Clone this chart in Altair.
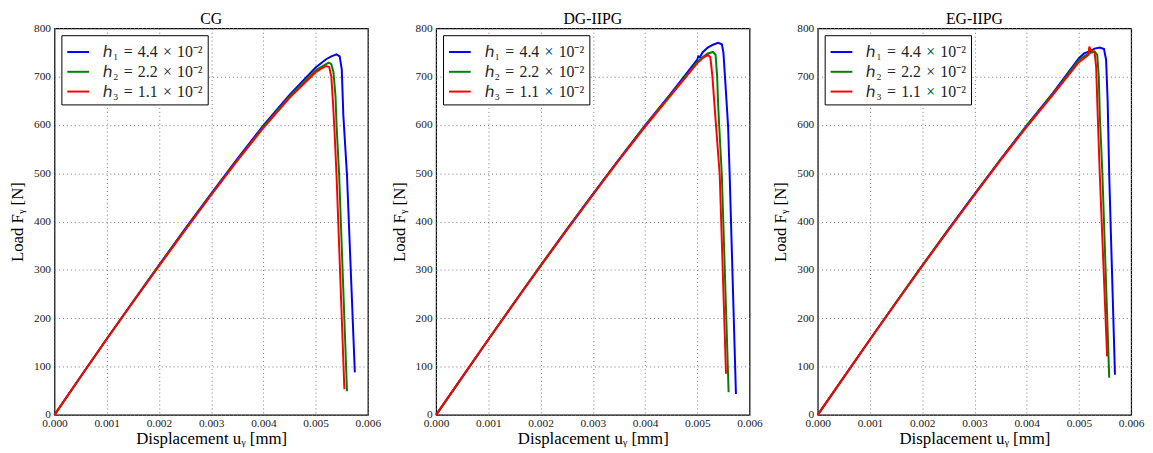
import altair as alt
import pandas as pd

# ---------- data ----------
SP = "\u2004"
LABELS = [f"ℎ₁{SP}={SP}4.4{SP}×{SP}10⁻²", f"ℎ₂{SP}={SP}2.2{SP}×{SP}10⁻²", f"ℎ₃{SP}={SP}1.1{SP}×{SP}10⁻²"]
COLORS = ["#0000ff", "#008000", "#ff0000"]
PANELS = ["CG", "DG-IIPG", "EG-IIPG"]
X_TICKS = [0, 0.001, 0.002, 0.003, 0.004, 0.005, 0.006]
Y_TICKS = [0, 100, 200, 300, 400, 500, 600, 700, 800]

base_x = [0, 0.0005, 0.001, 0.0015, 0.002, 0.0025, 0.003, 0.0035, 0.004]

# CG
cg_h1_x = base_x + [0.0045, 0.005, 0.0052, 0.0053, 0.0054, 0.00546, 0.0055, 0.00553, 0.0056, 0.00575]
cg_h1_y = [0, 79, 157, 234, 310, 385, 458, 530, 599, 662, 719, 736, 742, 746, 742, 715, 620, 496, 88]
cg_h2_x = base_x + [0.0045, 0.005, 0.0052, 0.00525, 0.0053, 0.00534, 0.00538, 0.0054, 0.00545, 0.0056]
cg_h2_y = [0, 79, 157, 233, 309, 383, 456, 527, 596, 659, 713, 726, 729, 726, 710, 660, 600, 496, 49]
cg_h3_x = base_x + [0.0045, 0.005, 0.0051, 0.0052, 0.00526, 0.0053, 0.00533, 0.00536, 0.0054, 0.00555]
cg_h3_y = [0, 79, 157, 233, 308, 382, 455, 526, 594, 656, 709, 716, 722, 720, 700, 650, 590, 496, 53]

# DG-IIPG
dg_h1_x = base_x + [0.0045, 0.005, 0.00502, 0.00505, 0.0051, 0.0052, 0.0053, 0.0054, 0.00547, 0.0055, 0.00553, 0.00559, 0.00562, 0.00574]
dg_h1_y = [0, 78, 156, 233, 309, 384, 457, 529, 599, 666, 735, 742, 740, 750, 760, 766, 770, 767, 750, 700, 597, 496, 43]
dg_h2_x = base_x + [0.0045, 0.005, 0.0051, 0.0052, 0.0053, 0.00535, 0.00538, 0.0054, 0.00542, 0.00547, 0.0056]
dg_h2_y = [0, 78, 156, 233, 309, 383, 456, 528, 598, 664, 730, 740, 748, 751, 745, 700, 640, 597, 496, 47]
dg_h3_x = base_x + [0.0045, 0.005, 0.0051, 0.0052, 0.00525, 0.00529, 0.00533, 0.00536, 0.00543, 0.00555]
dg_h3_y = [0, 78, 156, 232, 308, 382, 455, 527, 596, 662, 728, 738, 745, 740, 700, 640, 597, 496, 85]

# EG-IIPG
eg_h1_x = base_x + [0.0045, 0.005, 0.0051, 0.0052, 0.0053, 0.0054, 0.00548, 0.00552, 0.00555, 0.00558, 0.00569]
eg_h1_y = [0, 78, 156, 233, 309, 384, 457, 529, 599, 666, 738, 748, 752, 758, 760, 757, 735, 650, 496, 83]
eg_h2_x = base_x + [0.0045, 0.005, 0.0051, 0.0052, 0.0053, 0.00535, 0.00538, 0.0054, 0.00545, 0.00558]
eg_h2_y = [0, 78, 156, 233, 309, 383, 456, 528, 598, 664, 734, 742, 748, 752, 745, 700, 620, 496, 77]
eg_h3_x = base_x + [0.0045, 0.005, 0.0051, 0.00518, 0.0052, 0.00522, 0.0053, 0.00533, 0.00536, 0.0054, 0.00554]
eg_h3_y = [0, 78, 156, 232, 308, 382, 455, 527, 596, 662, 730, 738, 745, 762, 755, 750, 720, 620, 496, 121]

SERIES = {
    "CG": [(cg_h1_x, cg_h1_y), (cg_h2_x, cg_h2_y), (cg_h3_x, cg_h3_y)],
    "DG-IIPG": [(dg_h1_x, dg_h1_y), (dg_h2_x, dg_h2_y), (dg_h3_x, dg_h3_y)],
    "EG-IIPG": [(eg_h1_x, eg_h1_y), (eg_h2_x, eg_h2_y), (eg_h3_x, eg_h3_y)],
}

FONT = "Liberation Serif"


def panel(name):
    rows = []
    for lab, (xs, ys) in zip(LABELS, SERIES[name]):
        for i, (xv, yv) in enumerate(zip(xs, ys)):
            rows.append({"x": xv, "y": yv, "series": lab, "i": i})
    df = pd.DataFrame(rows)
    return (
        alt.Chart(df, title=alt.TitleParams(name, font=FONT, fontSize=16, fontWeight="normal", offset=-5))
        .mark_line(strokeWidth=2)
        .encode(
            x=alt.X("x:Q", scale=alt.Scale(domain=[0, 0.006], nice=False),
                    axis=alt.Axis(values=X_TICKS, format=".3f", labelFlush=False,
                                  title="Displacement uᵧ [mm]")),
            y=alt.Y("y:Q", scale=alt.Scale(domain=[0, 800], nice=False),
                    axis=alt.Axis(values=Y_TICKS, title="Load Fᵧ [N]")),
            color=alt.Color("series:N",
                            scale=alt.Scale(domain=LABELS, range=COLORS),
                            legend=alt.Legend(title=None, orient="top-left", offset=7,
                                              strokeColor="black", fillColor="white",
                                              padding=5, rowPadding=0, symbolType="stroke",
                                              symbolStrokeWidth=2, symbolSize=484, labelOffset=13,
                                              labelFont=FONT, labelFontSize=16, labelColor="#222")),
            order="i:Q",
        )
        .properties(width=317, height=391)
    )


chart = (
    alt.hconcat(*[panel(n) for n in PANELS], spacing=8)
    .resolve_scale(color="independent")
    .resolve_legend(color="independent")
    .properties(padding=0)
    .configure_view(stroke="black", strokeWidth=1.2)
    .configure_axis(
        labelFont=FONT, titleFont=FONT, labelFontSize=11.5, titleFontSize=17,
        titleFontWeight="normal", labelColor="#222", titleColor="black",
        domain=False, ticks=False, labelPadding=4, titlePadding=7,
        grid=True, gridColor="#777", gridDash=[1, 3], gridOpacity=1,
    )
    .configure_axisX(titlePadding=1, labelPadding=3)
)

chart.save("out.html", embed_options={"renderer": "svg", "actions": False})
